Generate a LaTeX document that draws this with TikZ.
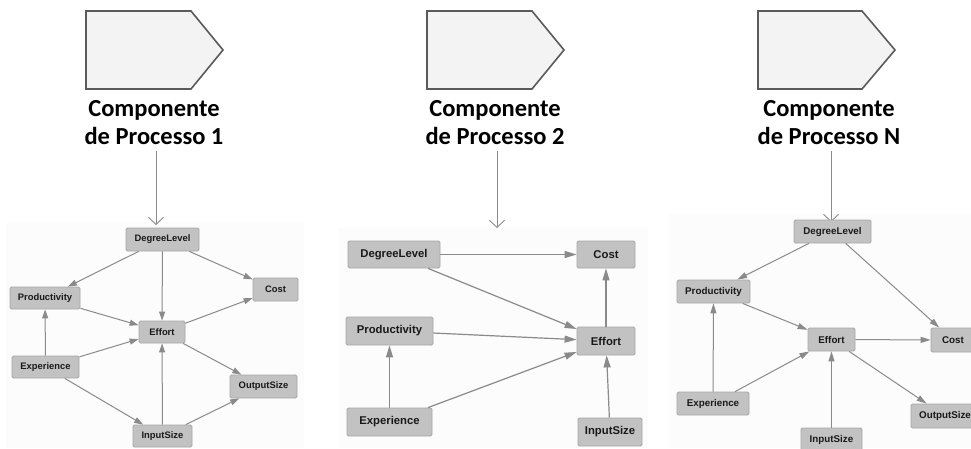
\documentclass[tikz,border=0pt]{standalone}
\usepackage{fontspec}
\setmainfont{Liberation Sans}
\newfontfamily\capfont{Carlito}
\newfontfamily\boxfont{Liberation Sans}
\usetikzlibrary{arrows.meta}
\definecolor{boxfill}{HTML}{C2C2C2}
\definecolor{boxline}{HTML}{A6A6A6}
\definecolor{edgecol}{HTML}{8A8A8A}
\definecolor{penfill}{HTML}{F3F3F3}
\definecolor{penline}{HTML}{5A5A5A}
\definecolor{panelbg}{HTML}{FCFCFC}
\tikzset{
  pentagon/.style={draw=penline, fill=penfill, line width=1.6pt, line join=miter},
  caption/.style={font=\capfont\bfseries\fontsize{24.5}{28}\selectfont, align=center, inner sep=0pt, text=black},
  feed/.style={draw=edgecol, line width=0.9pt, -{Straight Barb[length=7pt,width=15pt,line width=0.9pt]}},
  gbox/.style={rectangle, rounded corners=1.5pt, fill=boxfill, draw=boxline, line width=0.8pt,
               inner sep=0pt, text=black!90},
  sbox/.style={gbox, font=\boxfont\bfseries\fontsize{9.4}{10}\selectfont},
  mbox/.style={gbox, font=\boxfont\bfseries\fontsize{11.3}{12}\selectfont},
  nbox/.style={gbox, font=\boxfont\bfseries\fontsize{9.8}{10}\selectfont},
  sedge/.style={draw=edgecol, line width=1pt, -{Triangle[length=9pt,width=6pt]}},
  medge/.style={draw=edgecol, line width=1.2pt, -{Triangle[length=12pt,width=7pt]}},
  nedge/.style={draw=edgecol, line width=1pt, -{Triangle[length=10pt,width=6pt]}},
}
\begin{document}
\begin{tikzpicture}[x=1pt,y=-1pt]
\useasboundingbox (0,0) rectangle (971,448);
\fill[white] (0,0) rectangle (971,448);

% faint backgrounds of the three model panels
\fill[panelbg] (6,222) rectangle (304,448);
\fill[panelbg] (338,228) rectangle (648,448);
\fill[panelbg] (668,214) rectangle (971,448);

% process component shapes
\draw[pentagon] (86,11) -- (191,11) -- (223,50) -- (191,89) -- (86,89) -- cycle;
\draw[pentagon] (427,11) -- (532,11) -- (564,50) -- (532,89) -- (427,89) -- cycle;
\draw[pentagon] (758,11) -- (862,11) -- (895,50) -- (862,89) -- (758,89) -- cycle;

\node[caption] (cap1) at (154,123) {Componente\\de Processo 1};
\node[caption] (cap2) at (495,123) {Componente\\de Processo 2};
\node[caption] (cap3) at (829,123) {Componente\\de Processo N};

\coordinate (in1) at (156,225);
\coordinate (in2) at (497,228);
\coordinate (in3) at (831,222);
\draw[feed] ([yshift=-6pt]cap1.south -| in1) -- (in1);
\draw[feed] ([yshift=-6pt]cap2.south -| in2) -- (in2);
\draw[feed] ([yshift=-6pt]cap3.south -| in3) -- (in3);

% ---- model 1 ----
\node[sbox, minimum width=73pt, minimum height=23pt] (a-dl)  at (162.5,239.5) {DegreeLevel};
\node[sbox, minimum width=70pt, minimum height=22pt] (a-pr)  at (45,298)      {Productivity};
\node[sbox, minimum width=45pt, minimum height=23pt] (a-co)  at (275.5,289.5) {Cost};
\node[sbox, minimum width=46pt, minimum height=22pt] (a-ef)  at (162,332)     {Effort};
\node[sbox, minimum width=67pt, minimum height=22pt] (a-ex)  at (45.5,367)    {Experience};
\node[sbox, minimum width=67pt, minimum height=23pt] (a-ou)  at (263.5,386.5) {OutputSize};
\node[sbox, minimum width=59pt, minimum height=22pt] (a-in)  at (162.5,436)   {InputSize};

\draw[sedge] (a-dl) -- (a-pr);
\draw[sedge] (a-dl) -- (a-ef);
\draw[sedge] (a-dl) -- (a-co);
\draw[sedge] (a-pr) -- (a-ef);
\draw[sedge] (a-ex) -- (a-pr);
\draw[sedge] (a-ex) -- (a-ef);
\draw[sedge] (a-ex) -- (a-in);
\draw[sedge] (a-in) -- (a-ef);
\draw[sedge] (a-in) -- (a-ou);
\draw[sedge] (a-ef) -- (a-co);
\draw[sedge] (a-ef) -- (a-ou);

% ---- model 2 ----
\node[mbox, minimum width=92pt, minimum height=27pt] (b-dl) at (394,254.5)   {DegreeLevel};
\node[mbox, minimum width=58pt, minimum height=27pt] (b-co) at (606,254.5)   {Cost};
\node[mbox, minimum width=87pt, minimum height=28pt] (b-pr) at (389.5,331)   {Productivity};
\node[mbox, minimum width=58pt, minimum height=28pt] (b-ef) at (606,341)     {Effort};
\node[mbox, minimum width=85pt, minimum height=28pt] (b-ex) at (389.5,422)   {Experience};
\node[mbox, minimum width=64pt, minimum height=28pt] (b-in) at (610,432)     {InputSize};

\draw[medge] (b-dl) -- (b-co);
\draw[medge] (b-dl) -- (b-ef);
\draw[medge] (b-pr) -- (b-ef);
\draw[medge] (b-ex) -- (b-pr);
\draw[medge] (b-ex) -- (b-ef);
\draw[medge] (b-in) -- (b-ef);
\draw[medge] (b-ef) -- (b-co);

% ---- model N ----
\node[nbox, minimum width=77pt, minimum height=23pt] (c-dl) at (832.5,231.5) {DegreeLevel};
\node[nbox, minimum width=73pt, minimum height=23pt] (c-pr) at (713.5,291.5) {Productivity};
\node[nbox, minimum width=47pt, minimum height=23pt] (c-ef) at (831.5,339.5) {Effort};
\node[nbox, minimum width=44pt, minimum height=24pt] (c-co) at (953,340)     {Cost};
\node[nbox, minimum width=72pt, minimum height=23pt] (c-ex) at (713,403.5)   {Experience};
\node[nbox, minimum width=68pt, minimum height=24pt] (c-ou) at (945,416)     {OutputSize};
\node[nbox, minimum width=61pt, minimum height=23pt] (c-in) at (831.5,439.5) {InputSize};

\draw[nedge] (c-dl) -- (c-pr);
\draw[nedge] (c-dl) -- (c-co);
\draw[nedge] (c-pr) -- (c-ef);
\draw[nedge] (c-ex) -- (c-pr);
\draw[nedge] (c-ex) -- (c-ef);
\draw[nedge] (c-in) -- (c-ef);
\draw[nedge] (c-ef) -- (c-co);
\draw[nedge] (c-ef) -- (c-ou);
\end{tikzpicture}
\end{document}
